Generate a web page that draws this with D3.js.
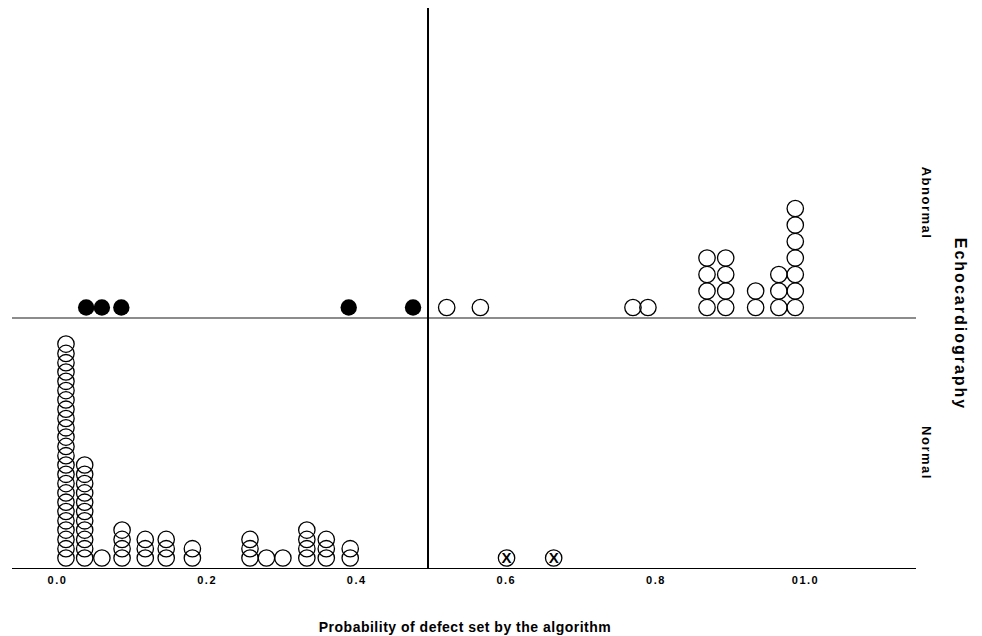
<!DOCTYPE html>
<html>
<head>
<meta charset="utf-8">
<script src="https://cdn.jsdelivr.net/npm/d3@7"></script>
<style>
  body { margin: 0; background: #fff; }
  svg text { font-family: Arial, "Liberation Sans", sans-serif; font-weight: bold; fill: #000; }
</style>
</head>
<body>
<svg id="chart" width="982" height="636"></svg>
<script>
// data
var abnormalMissedX = [0.039, 0.060, 0.086, 0.390, 0.476];   // filled dots, left of cut-off
var abnormalX = [0.521, 0.566, 0.770, 0.790, 0.869, 0.894, 0.934, 0.965, 0.987];
var abnormalCount = [1, 1, 1, 1, 4, 4, 2, 3, 7];
var normalX = [0.012, 0.037, 0.060, 0.087, 0.118, 0.146, 0.181, 0.258, 0.280, 0.302, 0.334, 0.360, 0.392];
var normalCount = [24, 11, 1, 4, 3, 3, 2, 3, 1, 1, 4, 3, 2];
var normalCrossX = [0.601, 0.664];
var cutoff = 0.496;
var tickValues = [0, 0.2, 0.4, 0.6, 0.8, 1.0];
var tickLabels = ["0.0", "0.2", "0.4", "0.6", "0.8", "01.0"];

var svg = d3.select("#chart");
var r = 8.2;

var x = d3.scaleLinear().domain([0, 1]).range([57, 805]);
// stack index -> centre y, one scale per panel
var yTop = d3.scaleLinear().domain([0, 1]).range([307.5, 291]);
var yBottom = d3.scaleLinear().domain([0, 1]).range([558, 548.7]);

function expand(xs, counts){
  var out = [];
  xs.forEach(function(v, i){
    for (var k = 0; k < counts[i]; k++) out.push({x: v, i: k});
  });
  return out;
}

// frame lines
svg.append("line")
  .attr("x1", 12).attr("x2", 916)
  .attr("y1", 318).attr("y2", 318)
  .attr("stroke", "#666").attr("stroke-width", 1.6);

// x axis (labels only, no ticks)
var xAxis = d3.axisBottom(x)
  .tickValues(tickValues)
  .tickSize(0)
  .tickPadding(8)
  .tickFormat(function(d, i){ return tickLabels[i]; });

var ax = svg.append("g")
  .attr("transform", "translate(0,568)")
  .call(xAxis);
ax.select(".domain").remove();
ax.selectAll("text")
  .attr("font-family", "Arial, 'Liberation Sans', sans-serif")
  .attr("font-weight", "bold")
  .attr("font-size", 11)
  .attr("letter-spacing", "1.5px")
  .attr("fill", "#000");

svg.append("line")
  .attr("x1", 12).attr("x2", 916)
  .attr("y1", 568.5).attr("y2", 568.5)
  .attr("stroke", "#000").attr("stroke-width", 1.2);

// cut-off line
svg.append("line")
  .attr("x1", x(cutoff)).attr("x2", x(cutoff))
  .attr("y1", 8).attr("y2", 568)
  .attr("stroke", "#000").attr("stroke-width", 2);

// abnormal panel
svg.append("g").selectAll("circle")
  .data(abnormalMissedX)
  .join("circle")
    .attr("cx", function(d){ return x(d); })
    .attr("cy", yTop(0))
    .attr("r", r)
    .attr("fill", "#000");

svg.append("g").selectAll("circle")
  .data(expand(abnormalX, abnormalCount))
  .join("circle")
    .attr("cx", function(d){ return x(d.x); })
    .attr("cy", function(d){ return yTop(d.i); })
    .attr("r", r)
    .attr("fill", "none")
    .attr("stroke", "#000")
    .attr("stroke-width", 1.3);

// normal panel
svg.append("g").selectAll("circle")
  .data(expand(normalX, normalCount))
  .join("circle")
    .attr("cx", function(d){ return x(d.x); })
    .attr("cy", function(d){ return yBottom(d.i); })
    .attr("r", r)
    .attr("fill", "none")
    .attr("stroke", "#000")
    .attr("stroke-width", 1.3);

var cross = svg.append("g").selectAll("g")
  .data(normalCrossX)
  .join("g")
    .attr("transform", function(d){ return "translate(" + x(d) + "," + yBottom(0) + ")"; });
cross.append("circle")
  .attr("r", r)
  .attr("fill", "none")
  .attr("stroke", "#000")
  .attr("stroke-width", 1.3);
cross.append("text")
  .attr("text-anchor", "middle")
  .attr("dy", "0.36em")
  .attr("font-size", 15)
  .text("X");

// titles
svg.append("text")
  .attr("x", 465).attr("y", 632)
  .attr("text-anchor", "middle")
  .attr("font-size", 14)
  .attr("letter-spacing", "0.5px")
  .text("Probability of defect set by the algorithm");

function sideLabel(txt, tx, ty, size, spacing){
  svg.append("text")
    .attr("transform", "translate(" + tx + "," + ty + ") rotate(90)")
    .attr("text-anchor", "middle")
    .attr("font-size", size)
    .attr("letter-spacing", spacing)
    .text(txt);
}
sideLabel("Abnormal", 922, 203, 13, "1.5px");
sideLabel("Normal", 922, 453, 13, "1.5px");
sideLabel("Echocardiography", 955, 324, 16, "2px");
</script>
</body>
</html>
